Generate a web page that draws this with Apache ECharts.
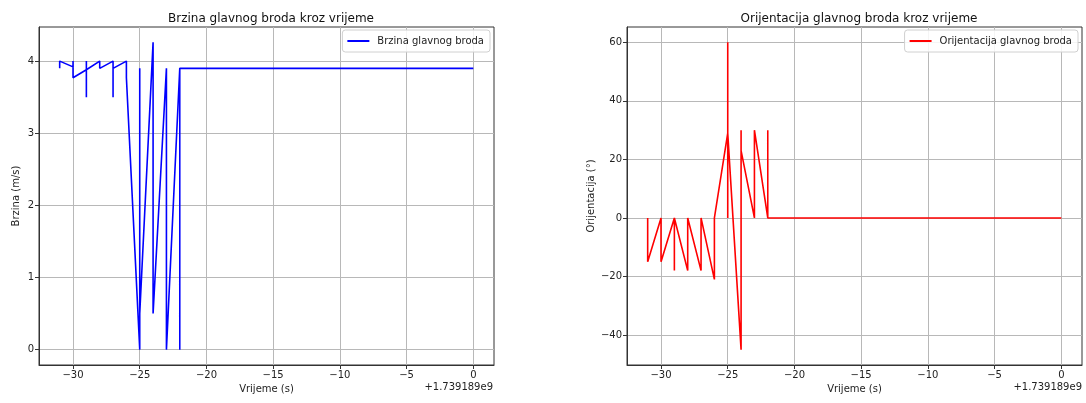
<!DOCTYPE html>
<html>
<head>
<meta charset="utf-8">
<script src="https://cdn.jsdelivr.net/npm/echarts@6/dist/echarts.min.js"></script>
<style>
  html, body { margin: 0; padding: 0; background: #fff; }
  #chart { width: 1086px; height: 403px; }
</style>
</head>
<body>
<div id="chart"></div>
<script>
// Time offsets in seconds (relative to 1.739189e9) and the logged values
const speedTimes = [-31, -31, -30, -30, -30, -29, -29, -29, -29, -28, -28, -27, -27, -27, -26, -26,
                    -25, -25, -25, -24, -24, -23, -23, -22, -22, -22, 0];
const speedValues = [3.9, 4.0, 3.92, 4.0, 3.77, 3.88, 4.0, 3.5, 3.88, 4.0, 3.9, 4.0, 3.5, 3.9, 4.0, 3.77,
                     0.0, 3.9, 0.5, 4.26, 0.5, 3.9, 0.0, 3.9, 0.0, 3.9, 3.9];

const headingTimes = [-31, -31, -30, -30, -29, -29, -29, -28, -28, -27, -27, -26, -26,
                      -25, -25, -25, -25, -24, -24, -24, -23, -23, -22, -22, -22, 0];
const headingValues = [0, -15, 0, -15, 0, -18, 0, -18, 0, -18, 0, -21, 0,
                       29, 60, 0, 29, -45, 30, 23, 0, 30, 0, 30, 0, 0];

const timeTicks = [-30, -25, -20, -15, -10, -5, 0];
const speedTicks = [0, 1, 2, 3, 4];
const headingTicks = [-40, -20, 0, 20, 40, 60];

const offsetText = '+1.739189e9';
const speedTitle = 'Brzina glavnog broda kroz vrijeme';
const headingTitle = 'Orijentacija glavnog broda kroz vrijeme';
const speedName = 'Brzina glavnog broda';
const headingName = 'Orijentacija glavnog broda';

const pairs = (xs, ys) => xs.map((x, i) => [x, ys[i]]);
const minus = v => (v < 0 ? '\u2212' + Math.abs(v) : String(v));

// matplotlib-like 5% margins around the data range
function padded(values, frac) {
  const lo = Math.min(...values), hi = Math.max(...values);
  const m = (hi - lo) * frac;
  return [lo - m, hi + m];
}
const tRange = padded(speedTimes, 0.05);
const sRange = padded(speedValues, 0.05);
const hRange = padded(headingValues, 0.05);

const FONT = 'DejaVu Sans';
const textCol = '#222';

function xAxis(gridIndex) {
  return {
    type: 'value', gridIndex,
    min: tRange[0], max: tRange[1],
    name: 'Vrijeme (s)', nameLocation: 'middle', nameGap: 19,
    nameTextStyle: { fontFamily: FONT, fontSize: 10, color: textCol },
    axisLine: { show: true, onZero: false, lineStyle: { color: '#333', width: 1 } },
    axisTick: { show: true, length: 4, lineStyle: { color: '#333' }, customValues: timeTicks },
    axisLabel: { fontFamily: FONT, fontSize: 10, color: textCol, margin: 5,
                 customValues: timeTicks, formatter: minus },
    splitLine: { show: true, lineStyle: { color: '#b8b8b8', width: 1 } }
  };
}
function yAxis(gridIndex, range, ticks, name, gap) {
  return {
    type: 'value', gridIndex,
    min: range[0], max: range[1],
    name, nameLocation: 'middle', nameGap: gap, nameRotate: 90,
    nameTextStyle: { fontFamily: FONT, fontSize: 10, color: textCol },
    axisLine: { show: true, onZero: false, lineStyle: { color: '#333', width: 1 } },
    axisTick: { show: true, length: 4, lineStyle: { color: '#333' }, customValues: ticks },
    axisLabel: { fontFamily: FONT, fontSize: 10, color: textCol, margin: 5,
                 customValues: ticks, formatter: minus },
    splitLine: { show: true, lineStyle: { color: '#b8b8b8', width: 1 } }
  };
}
function legend(name, right) {
  return {
    data: [name], right, top: 30, orient: 'vertical',
    icon: 'rect', itemWidth: 22, itemHeight: 2,
    padding: [6, 6, 6, 5], itemGap: 4,
    borderColor: '#d0d0d0', borderWidth: 1, borderRadius: 3,
    backgroundColor: 'rgba(255,255,255,0.85)',
    textStyle: { fontFamily: FONT, fontSize: 10, color: textCol, padding: [0, 0, 0, 3] }
  };
}

const chart = echarts.init(document.getElementById('chart'), null, { renderer: 'canvas' });
chart.setOption({
  animation: false,
  backgroundColor: '#fff',
  title: [
    { text: speedTitle, left: 266, top: 8, textAlign: 'center',
      textStyle: { fontFamily: FONT, fontSize: 12, fontWeight: 'normal', color: '#111' } },
    { text: headingTitle, left: 854, top: 8, textAlign: 'center',
      textStyle: { fontFamily: FONT, fontSize: 12, fontWeight: 'normal', color: '#111' } }
  ],
  legend: [legend(speedName, 1086 - 490), legend(headingName, 1086 - 1078)],
  grid: [
    { left: 39, top: 27, width: 455, height: 338, show: true, borderColor: '#333', borderWidth: 1 },
    { left: 627, top: 27, width: 455, height: 338, show: true, borderColor: '#333', borderWidth: 1 }
  ],
  xAxis: [xAxis(0), xAxis(1)],
  yAxis: [
    yAxis(0, sRange, speedTicks, 'Brzina (m/s)', 18),
    yAxis(1, hRange, headingTicks, 'Orijentacija (\u00b0)', 31)
  ],
  graphic: [
    { type: 'text', right: 1086 - 493, top: 382,
      style: { text: offsetText, fontFamily: FONT, fontSize: 10, fill: textCol } },
    { type: 'text', right: 1086 - 1082, top: 382,
      style: { text: offsetText, fontFamily: FONT, fontSize: 10, fill: textCol } }
  ],
  series: [
    { type: 'line', name: speedName, xAxisIndex: 0, yAxisIndex: 0,
      data: pairs(speedTimes, speedValues), symbol: 'none',
      lineStyle: { color: '#0000ff', width: 1.6 }, itemStyle: { color: '#0000ff' } },
    { type: 'line', name: headingName, xAxisIndex: 1, yAxisIndex: 1,
      data: pairs(headingTimes, headingValues), symbol: 'none',
      lineStyle: { color: '#ff0000', width: 1.6 }, itemStyle: { color: '#ff0000' } }
  ]
});
</script>
</body>
</html>
